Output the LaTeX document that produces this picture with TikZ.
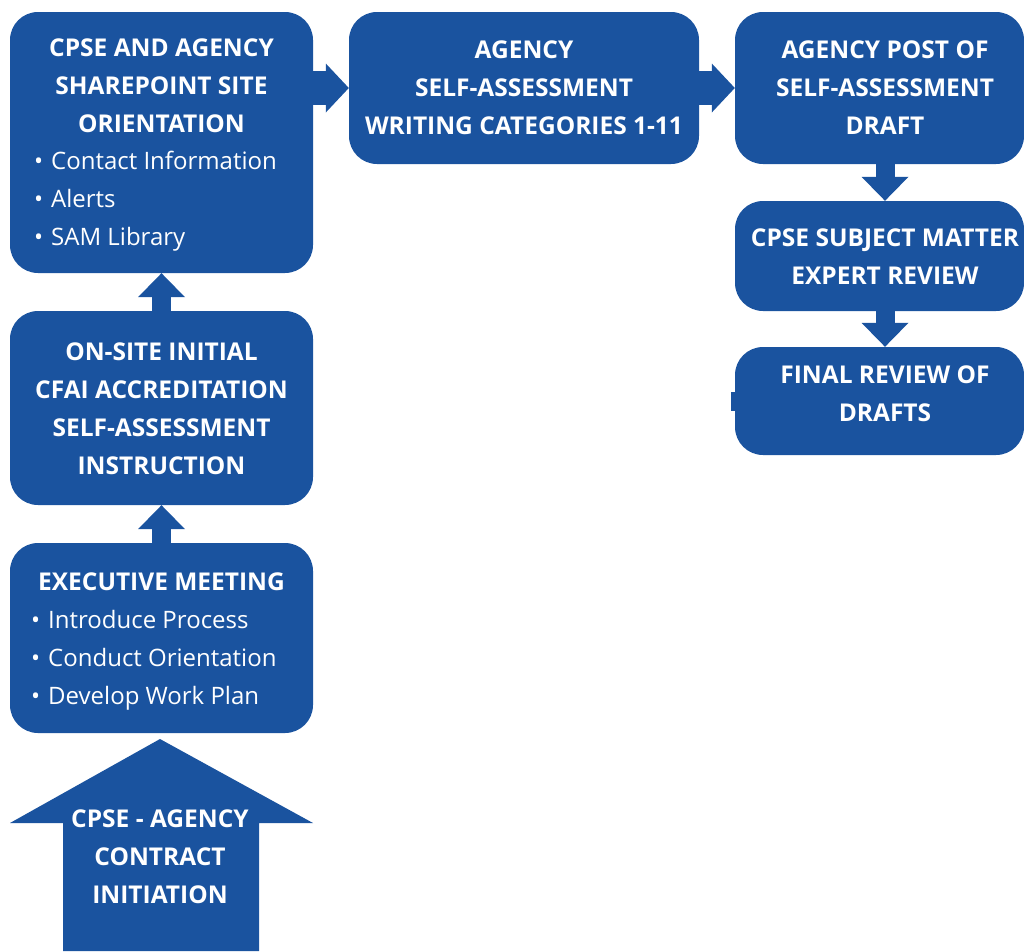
\documentclass[tikz,border=0pt]{standalone}
\usepackage{fontspec}
\setmainfont{Open Sans}
\usetikzlibrary{arrows.meta,positioning}

\definecolor{cpseblue}{RGB}{26,83,159}
\newcommand\headfont{\fontsize{24.5}{38}\selectfont\bfseries}
\newcommand\listfont{\fontsize{24}{38}\selectfont}
\newcommand\bul{\makebox[17pt][l]{•}}

\tikzset{
	stagebox/.style={rounded corners=28pt,fill=cpseblue,inner sep=0pt},
	headtext/.style={text=white,align=center,font=\headfont,inner sep=0pt},
	listitem/.style={text=white,anchor=base west,font=\listfont,inner sep=0pt},
	harrow/.style={cpseblue,line width=34pt,-{Triangle[length=23pt,width=49pt,line width=0pt]}},
	varrow/.style={cpseblue,line width=19pt,-{Triangle[length=24pt,width=47pt,line width=0pt]}},
}

\begin{document}
\begin{tikzpicture}[x=1pt,y=-1pt]
		\useasboundingbox (0,0) rectangle (1024,951);

		% the stages
		\begin{scope}[every node/.style={stagebox}]
			\node[minimum width=303pt,minimum height=261pt] (a) at (161.5,142.5) {};
			\node[minimum width=350pt,minimum height=152pt] (b) at (524,88) {};
			\node[minimum width=289pt,minimum height=152pt] (c) at (879.5,88) {};
			\node[minimum width=289pt,minimum height=110pt] (d) at (879.5,256) {};
			\node[minimum width=289pt,minimum height=108pt] (e) at (879.5,401) {};
			\node[minimum width=303pt,minimum height=194pt] (f) at (161.5,408) {};
			\node[minimum width=303pt,minimum height=190pt] (g) at (161.5,638) {};
		\end{scope}
		\fill[cpseblue] (731,392) rectangle (736,411);

		% start arrow
		\fill[cpseblue] (63,951) -- (63,823) -- (10,823) -- (160,739)
			-- (313,823) -- (259,823) -- (259,951) -- cycle;

		% headings
		\begin{scope}[every node/.style={headtext}]
			\node (a-head) at (161.5,86) {CPSE AND AGENCY\\SHAREPOINT SITE\\ORIENTATION};
			\node (b-head) at (524,88) {AGENCY\\SELF-ASSESSMENT\\WRITING CATEGORIES 1-11};
			\node (c-head) at (885,88) {AGENCY POST OF\\SELF-ASSESSMENT\\DRAFT};
			\node (d-head) at (885,257) {CPSE SUBJECT MATTER\\EXPERT REVIEW};
			\node (e-head) at (885,394) {FINAL REVIEW OF\\DRAFTS};
			\node (f-head) at (161.5,409) {ON-SITE INITIAL\\CFAI ACCREDITATION\\SELF-ASSESSMENT\\INSTRUCTION};
			\node (g-head) at (161.5,582) {EXECUTIVE MEETING};
			\node (init) at (160,857) {CPSE - AGENCY\\CONTRACT\\INITIATION};
		\end{scope}

		% bullet lists
		\foreach \txt [count=\i] in {Contact Information,Alerts,SAM Library}
			\node[listitem] (a-item\i) at (34,131+38*\i) {\bul\txt};
		\foreach \txt [count=\i] in {Introduce Process,Conduct Orientation,Develop Work Plan}
			\node[listitem] (g-item\i) at (31,590+38*\i) {\bul\txt};

		% flow between stages
		\draw[harrow] (a.east |- b.west) -- (b.west);
		\draw[harrow] (b) -- (c);
		\draw[varrow] ([xshift=5.5pt]c.south) -- ([xshift=5.5pt]d.north);
		\draw[varrow] ([xshift=5.5pt]d.south) -- ([xshift=5.5pt]e.north);
		\draw[varrow] (g) -- (f);
		\draw[varrow] (f) -- (a);
	\end{tikzpicture}
\end{document}
